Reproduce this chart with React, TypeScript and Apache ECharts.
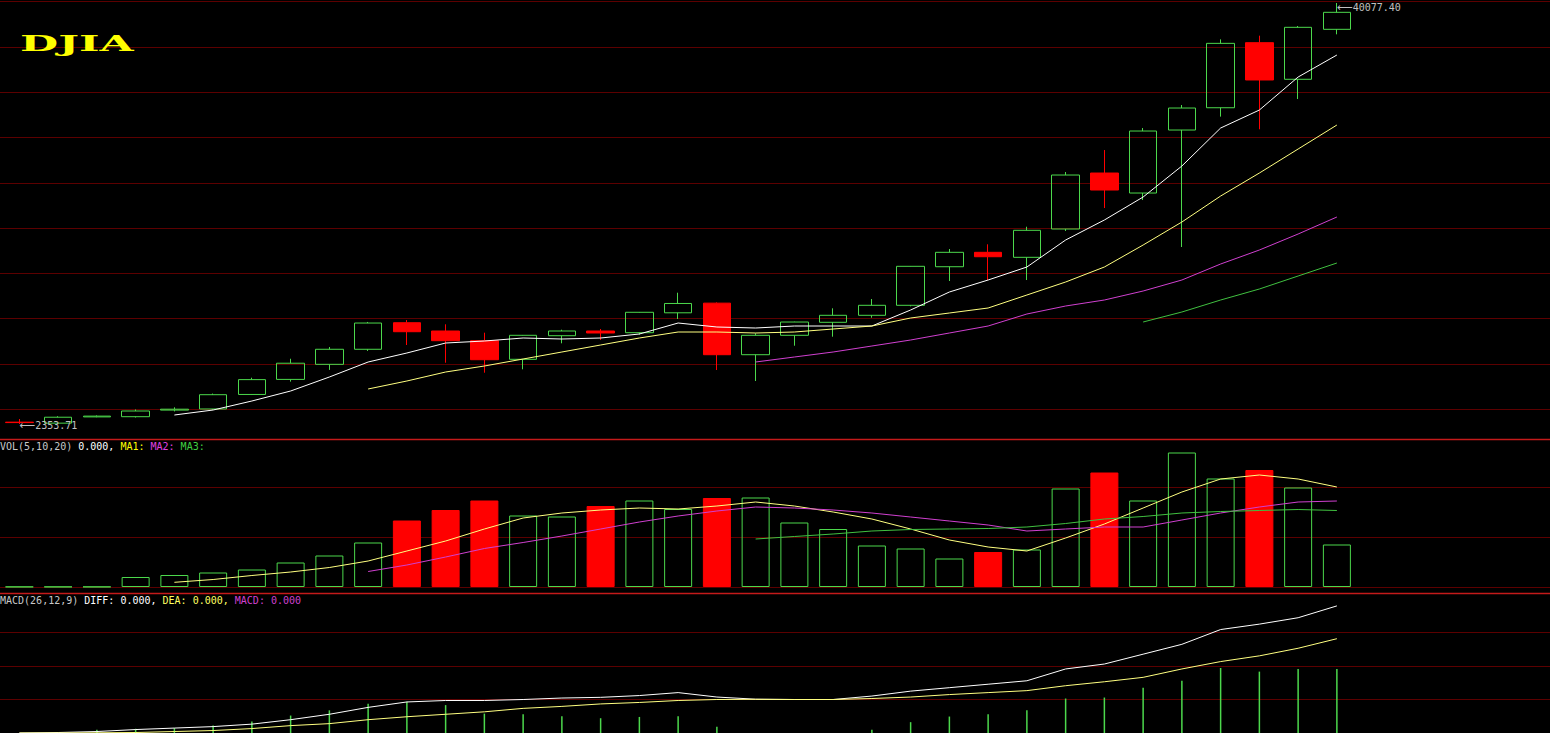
import React, { useEffect, useRef } from "react";
import * as echarts from "echarts";

// ---- categories (annual candles) ----
const YEARS = [
  "1990", "1991", "1992", "1993", "1994", "1995", "1996", "1997", "1998", "1999",
  "2000", "2001", "2002", "2003", "2004", "2005", "2006", "2007", "2008", "2009",
  "2010", "2011", "2012", "2013", "2014", "2015", "2016", "2017", "2018", "2019",
  "2020", "2021", "2022", "2023", "2024",
];
const EMPTY_SLOTS = ["", " ", "  ", "   ", "    "];
const CATEGORIES = [...YEARS, ...EMPTY_SLOTS];

// ---- price (OHLC) ----
const OPEN = [2520, 2430, 2990, 3008, 3600, 3700, 5000, 6350, 7700, 9050, 11430, 10687, 9818, 8151, 10265, 10687, 10535, 12318, 13184, 8563, 10302, 11466, 12093, 12989, 16447, 17737, 17289, 19826, 24842, 23051, 28696, 30692, 36522, 33242, 37719];
const CLOSE = [2480, 2960, 3060, 3518, 3680, 4980, 6330, 7800, 9050, 11400, 10624, 9818, 8115, 10302, 10687, 10508, 12363, 13154, 8563, 10302, 11492, 12093, 12989, 16483, 17737, 17343, 19709, 24664, 23319, 28606, 30667, 36462, 33179, 37898, 39242];
const LOW = [2353.71, 2380, 2960, 2936, 3480, 3650, 4950, 6150, 7200, 8900, 9432, 7846, 6950, 7255, 9584, 9879, 10355, 11761, 7192, 6206, 9369, 10177, 11878, 12900, 15166, 15255, 15255, 19650, 21707, 22424, 18213, 29895, 28762, 31474, 37270];
const HIGH = [2800, 3050, 3120, 3653, 3850, 5080, 6500, 8200, 9250, 11497, 11672, 11287, 10535, 10330, 10803, 10866, 12390, 14118, 13250, 10480, 11520, 12720, 13554, 16500, 18034, 18455, 20031, 24933, 26904, 28875, 30936, 36820, 37149, 38015, 40077.4];

// ---- price moving averages ----
const N = null;
const MA5 = [N, N, N, N, 3160, 3608, 4414, 5310, 6565, 7909, 8715, 9611, 9790, 10059, 9969, 10059, 10418, 11403, 11045, 10955, 11134, 11134, 11134, 12568, 14181, 15256, 16421, 18840, 20632, 22693, 25470, 28875, 30488, 33445, 35416];
const MA10 = [N, N, N, N, N, N, N, N, N, 5490, 6206, 7013, 7550, 8178, 8805, 9432, 10059, 10597, 10597, 10507, 10597, 10866, 11134, 11851, 12299, 12747, 13912, 15077, 16421, 18392, 20453, 22782, 24843, 26994, 29144];
const MA20 = [N, N, N, N, N, N, N, N, N, N, N, N, N, N, N, N, N, N, N, 7909, 8357, 8805, 9342, 9880, 10507, 11134, 12210, 12926, 13464, 14270, 15256, 16690, 17944, 19378, 20901];
const MA30 = [N, N, N, N, N, N, N, N, N, N, N, N, N, N, N, N, N, N, N, N, N, N, N, N, N, N, N, N, N, 11493, 12389, 13464, 14450, 15615, 16780];

// ---- volume ----
const VOLUME = [0.5, 0.5, 0.5, 20, 24, 29, 35, 49, 63, 89, 133, 154, 173, 143, 141, 162, 173, 156, 178, 179, 129, 116, 83, 77, 57, 70, 75, 197, 229, 173, 269, 217, 234, 199, 85];
const VOL_MA1 = [N, N, N, N, 9.4, 15, 23, 30, 39, 52, 72, 92, 116, 138, 148, 154, 158, 156, 162, 170, 162, 150, 136, 116, 94, 80, 72, 98, 126, 158, 190, 216, 224, 216, 200];
const VOL_MA2 = [N, N, N, N, N, N, N, N, N, 31, 44, 60, 77, 89, 102, 116, 130, 142, 152, 160, 158, 154, 148, 140, 132, 124, 112, 116, 120, 120, 134, 148, 160, 170, 172];
const VOL_MA3 = [N, N, N, N, N, N, N, N, N, N, N, N, N, N, N, N, N, N, N, 96, 101, 106, 112, 115, 116, 117, 120, 127, 136, 141, 148, 151, 153, 155, 153];

// ---- MACD ----
const DIFF = [0, 25, 75, 175, 250, 325, 450, 675, 950, 1300, 1575, 1650, 1650, 1700, 1775, 1810, 1900, 2050, 1825, 1715, 1700, 1700, 1875, 2125, 2300, 2475, 2650, 3250, 3500, 4000, 4500, 5250, 5525, 5850, 6450];
const DEA = [0, 0, 10, 25, 75, 125, 225, 375, 475, 675, 825, 950, 1075, 1250, 1350, 1475, 1550, 1650, 1700, 1710, 1700, 1700, 1750, 1825, 1950, 2050, 2150, 2400, 2600, 2825, 3250, 3625, 3915, 4300, 4785];
const MACD_BAR = [0, 25, 165, 215, 250, 385, 585, 885, 1150, 1485, 1585, 1415, 985, 950, 850, 750, 815, 850, 315, -20, -10, 0, 165, 550, 835, 950, 1150, 1750, 1800, 2300, 2650, 3300, 3115, 3250, 3250];

// ---- styles ----
const GREEN = "#4cd84c";
const RED = "#ff0000";
const DIM = "#5c0000";
const SEP = "#c41a1a";
const PALE_YELLOW = "#ffff80";
const MAGENTA = "#d040d0";
const LINE_GREEN = "#40c040";
const MONO = "DejaVu Sans Mono";

export default function App() {
  const ref = useRef<HTMLDivElement>(null);

  useEffect(() => {
    const el = ref.current;
    if (!el) return;
    const chart = echarts.init(el, undefined, { renderer: "svg" });

    const candleData = OPEN.map((o, i) => [o, CLOSE[i], LOW[i], HIGH[i]]);
    const volData = VOLUME.map((v, i) => {
      const down = CLOSE[i] < OPEN[i] && v > 1;
      return {
        value: v,
        itemStyle: down
          ? { color: RED, borderColor: RED, borderWidth: 1 }
          : { color: "rgba(0,0,0,0)", borderColor: GREEN, borderWidth: 1 },
      };
    });

    const gridX = { left: -1.4, right: -1 };
    const hiddenCat = (gridIndex: number) => ({
      type: "category" as const,
      gridIndex,
      data: CATEGORIES,
      boundaryGap: true,
      show: false,
    });
    const lineSeries = (name: string, data: (number | null)[], color: string, xi: number, yi: number) => ({
      type: "line" as const,
      name,
      data,
      xAxisIndex: xi,
      yAxisIndex: yi,
      symbol: "none",
      showSymbol: false,
      silent: true,
      lineStyle: { width: 1, color },
      itemStyle: { color },
      z: 5,
    });
    const decorAxis = (gridIndex: number, min: number, max: number, interval: number, showMax: boolean) => ({
      type: "value" as const,
      gridIndex,
      min,
      max,
      interval,
      axisLine: { show: false },
      axisTick: { show: false },
      axisLabel: { show: false },
      splitLine: { show: true, showMinLine: true, showMaxLine: showMax, lineStyle: { color: DIM, width: 1 } },
    });

    const arrowLabel = (p: any) => "{ar|\u27F5}{v|" + Number(p.value).toFixed(2) + "}";

    const option: any = {
      animation: false,
      backgroundColor: "#000000",
      grid: [
        { ...gridX, top: 1.7, height: 436.3 },
        { ...gridX, top: 1.7, height: 407.6 },
        { ...gridX, top: 437, height: 150 },
        { ...gridX, top: 599, height: 136 },
      ],
      xAxis: [
        hiddenCat(0),
        { type: "value", gridIndex: 1, min: 0, max: 1, show: false },
        hiddenCat(2),
        hiddenCat(3),
      ],
      yAxis: [
        { type: "value", gridIndex: 0, min: 1099.2, max: 40194.3, show: false, splitLine: { show: false } },
        decorAxis(1, 0, 9, 1, true),
        decorAxis(2, 0, 300, 100, false),
        decorAxis(3, 0, 6800, 1700, false),
      ],
      series: [
        {
          type: "candlestick",
          name: "DJIA",
          data: candleData,
          xAxisIndex: 0,
          yAxisIndex: 0,
          barWidth: 28,
          silent: true,
          itemStyle: {
            color: "rgba(0,0,0,0)",
            color0: RED,
            borderColor: GREEN,
            borderColor0: RED,
            borderWidth: 1,
          },
          markPoint: {
            symbol: "circle",
            symbolSize: 0,
            silent: true,
            label: {
              show: true,
              position: "right",
              distance: 0,
              color: "#c0c0c0",
              fontFamily: MONO,
              fontSize: 10,
              lineHeight: 11,
              formatter: arrowLabel,
              rich: {
                ar: { color: "#c0c0c0", fontFamily: "DejaVu Sans", fontSize: 11, lineHeight: 11 },
                v: { color: "#c0c0c0", fontFamily: MONO, fontSize: 10, lineHeight: 11 },
              },
            },
            data: [
              { type: "max", valueDim: "highest", label: { offset: [0, 4] } },
              { type: "min", valueDim: "lowest", label: { offset: [0, 2] } },
            ],
          },
          z: 3,
        },
        lineSeries("MA5", MA5, "#ffffff", 0, 0),
        lineSeries("MA10", MA10, PALE_YELLOW, 0, 0),
        lineSeries("MA20", MA20, MAGENTA, 0, 0),
        lineSeries("MA30", MA30, LINE_GREEN, 0, 0),
        {
          type: "bar",
          name: "VOL",
          data: volData,
          xAxisIndex: 2,
          yAxisIndex: 2,
          barWidth: 28,
          silent: true,
          z: 3,
        },
        lineSeries("VOL MA1", VOL_MA1, PALE_YELLOW, 2, 2),
        lineSeries("VOL MA2", VOL_MA2, MAGENTA, 2, 2),
        lineSeries("VOL MA3", VOL_MA3, LINE_GREEN, 2, 2),
        {
          type: "bar",
          name: "MACD",
          data: MACD_BAR,
          xAxisIndex: 3,
          yAxisIndex: 3,
          barWidth: 1.5,
          silent: true,
          itemStyle: { color: GREEN },
          z: 3,
        },
        lineSeries("DIFF", DIFF, "#ffffff", 3, 3),
        lineSeries("DEA", DEA, PALE_YELLOW, 3, 3),
      ],
      graphic: [
        {
          type: "line",
          silent: true,
          shape: { x1: 0, y1: 439.5, x2: 1550, y2: 439.5 },
          style: { stroke: SEP, lineWidth: 1.3 },
          z: 10,
        },
        {
          type: "line",
          silent: true,
          shape: { x1: 0, y1: 593.5, x2: 1550, y2: 593.5 },
          style: { stroke: SEP, lineWidth: 1.3 },
          z: 10,
        },
        {
          type: "text",
          silent: true,
          x: 20,
          y: 43,
          scaleX: 2.0,
          style: {
            text: "DJIA",
            fill: "#ffff00",
            fontSize: 22,
            fontWeight: "bold",
            fontFamily: "DejaVu Serif",
            align: "left",
            verticalAlign: "middle",
          },
          z: 10,
        },
        {
          type: "text",
          silent: true,
          x: 0,
          y: 446,
          style: {
            text: "{a|VOL(5,10,20)} {b|0.000,} {c|MA1:} {d|MA2:} {e|MA3:}",
            fill: "#c8c8c8",
            fontSize: 10,
            fontFamily: MONO,
            align: "left",
            verticalAlign: "middle",
            rich: {
              a: { fill: "#c8c8c8", fontSize: 10, fontFamily: MONO },
              b: { fill: "#ffffff", fontSize: 10, fontFamily: MONO },
              c: { fill: "#ffff00", fontSize: 10, fontFamily: MONO },
              d: { fill: "#e040e0", fontSize: 10, fontFamily: MONO },
              e: { fill: "#40d040", fontSize: 10, fontFamily: MONO },
            },
          },
          z: 10,
        },
        {
          type: "text",
          silent: true,
          x: 0,
          y: 600,
          style: {
            text: "{a|MACD(26,12,9)} {b|DIFF: 0.000,} {c|DEA: 0.000,} {d|MACD: 0.000}",
            fill: "#c8c8c8",
            fontSize: 10,
            fontFamily: MONO,
            align: "left",
            verticalAlign: "middle",
            rich: {
              a: { fill: "#c8c8c8", fontSize: 10, fontFamily: MONO },
              b: { fill: "#ffffff", fontSize: 10, fontFamily: MONO },
              c: { fill: "#ffff60", fontSize: 10, fontFamily: MONO },
              d: { fill: "#d040d0", fontSize: 10, fontFamily: MONO },
            },
          },
          z: 10,
        },
      ],
    };

    chart.setOption(option);
    return () => chart.dispose();
  }, []);

  return (
    <div
      ref={ref}
      style={{ position: "fixed", left: 0, top: 0, width: 1550, height: 733, background: "#000" }}
    />
  );
}
